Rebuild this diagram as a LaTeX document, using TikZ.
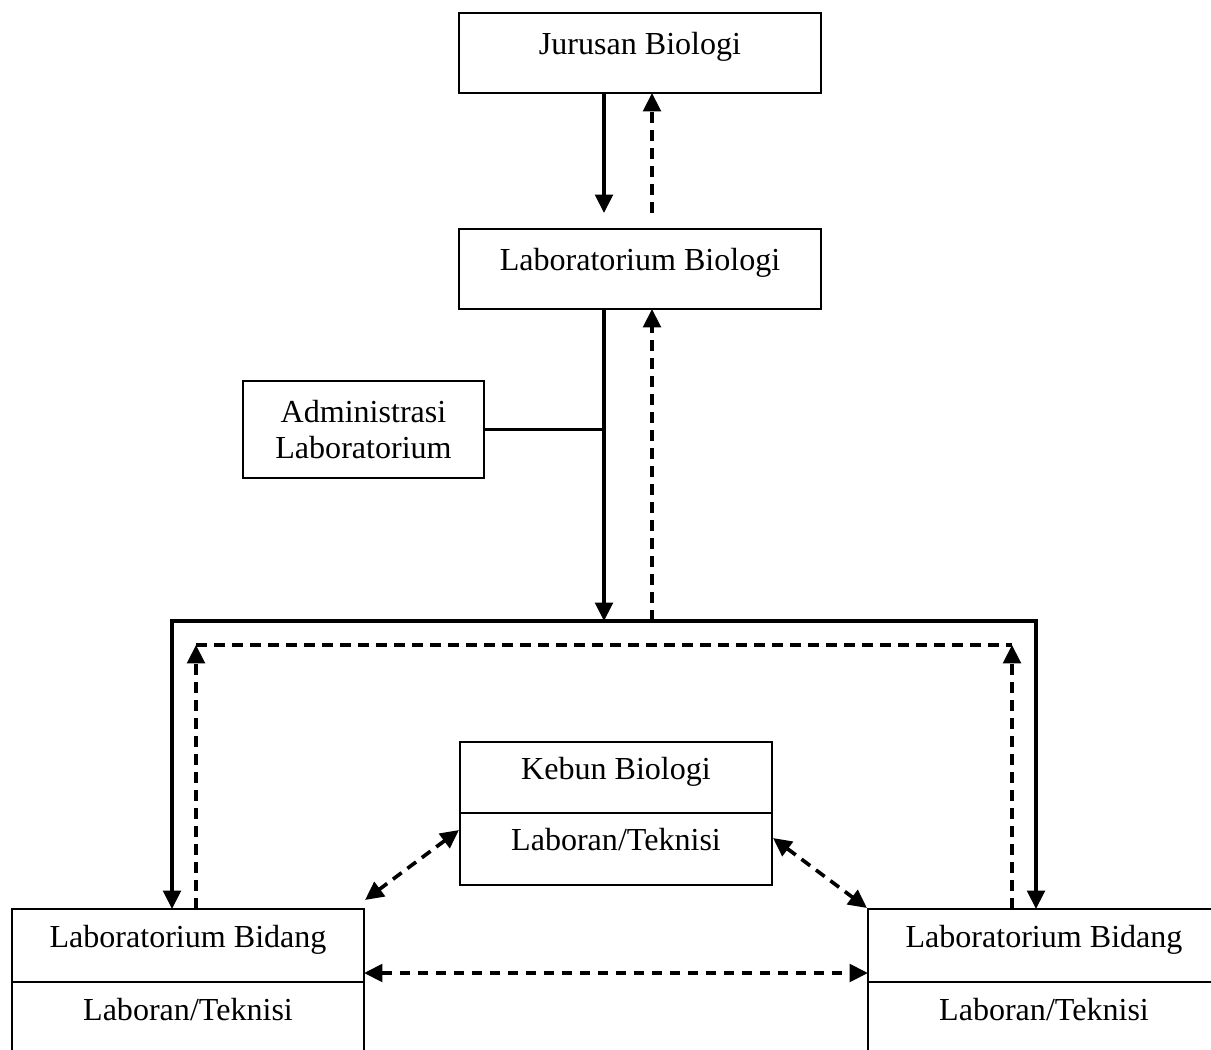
\documentclass[tikz,border=0pt]{standalone}
\usepackage{fontspec}
\setmainfont{Liberation Serif}
\usetikzlibrary{arrows.meta,calc,positioning}

\begin{document}
\begin{tikzpicture}[x=0.025cm,y=-0.025cm,
    box/.style={draw,line width=2pt,inner sep=0pt,outer sep=0pt,align=center,
      font=\fontsize{22.8}{25}\selectfont},
    row/.style={box,text height=0.55em,text depth=0.3em},
    line/.style={line width=2.6pt},
    dashline/.style={line width=2.6pt,dash pattern=on 0.27cm off 0.18cm},
    tip/.style={-{Triangle[length=0.46cm,width=0.44cm]}},
    tips/.style={{Triangle[length=0.46cm,width=0.44cm]}-{Triangle[length=0.46cm,width=0.44cm]}}]
    \useasboundingbox (0,0) rectangle (1211,1050);

    \node[row,minimum width=9.05cm,minimum height=2cm] (jb) at (640,53) {Jurusan Biologi};
    \node[row,minimum width=9.05cm,minimum height=2cm] (lb) at (640,269) {Laboratorium Biologi};
    \node[box,minimum width=6.025cm,minimum height=2.425cm] (adm) at (363.5,429.5) {Administrasi\\Laboratorium};

    \node[row,minimum width=7.8cm,minimum height=1.775cm] (kb) at (616,777.5) {Kebun Biologi};
    \node[row,minimum width=7.8cm,minimum height=1.8cm,below=0pt of kb] (kbt) {Laboran/Teknisi};

    \node[row,minimum width=8.8cm,minimum height=1.825cm] (lbl) at (188,945.5) {Laboratorium Bidang};
    \node[row,minimum width=8.8cm,minimum height=1.825cm,below=0pt of lbl] (lblt) {Laboran/Teknisi};
    \node[row,minimum width=8.8cm,minimum height=1.825cm] (lbr) at (1044,945.5) {Laboratorium Bidang};
    \node[row,minimum width=8.8cm,minimum height=1.825cm,below=0pt of lbr] (lbrt) {Laboran/Teknisi};

    \coordinate (busl) at (172,621);
    \coordinate (busr) at (1036,621);
    \coordinate (dl) at (196,645);
    \coordinate (dr) at (1012,645);
    \coordinate (s1) at ($(lb.south)+(-36,0)$);
    \coordinate (u1) at ($(lb.south)+(12,0)$);

    % jurusan <-> laboratorium
    \draw[line,tip] ($(jb.south)+(-36,0)$) -- ($(lb.north)+(-36,-16)$);
    \draw[dashline,tip] ($(lb.north)+(12,-16)$) -- ($(jb.south)+(12,0)$);

    % laboratorium -> bidang
    \draw[line,tip] (s1) -- (s1 |- busl);
    \draw[dashline,tip] (u1 |- busl) -- (u1);
    \draw[line] (adm.east) -- (adm.east -| s1);
    \draw[line,tips] (lbl.north -| busl) -- (busl) -- (busr) -- (lbr.north -| busr);
    \draw[dashline,tip] (lbl.north -| dl) -- (dl);
    \draw[dashline,tip] (lbr.north -| dr) -- (dr);
    \draw[dashline] (dl) -- (dr);

    % kebun <-> bidang
    \draw[dashline,tips] ($(kbt.west)+(-1,-19)$) -- ($(lbl.north east)+(1,-9)$);
    \draw[dashline,tips] ($(kbt.east)+(1,-11)$) -- ($(lbr.north west)+(-1,-1)$);
    \draw[dashline,tips] ($(lbl.south east)+(0,-9)$) -- ($(lbr.south west)+(0,-9)$);
\end{tikzpicture}
\end{document}
